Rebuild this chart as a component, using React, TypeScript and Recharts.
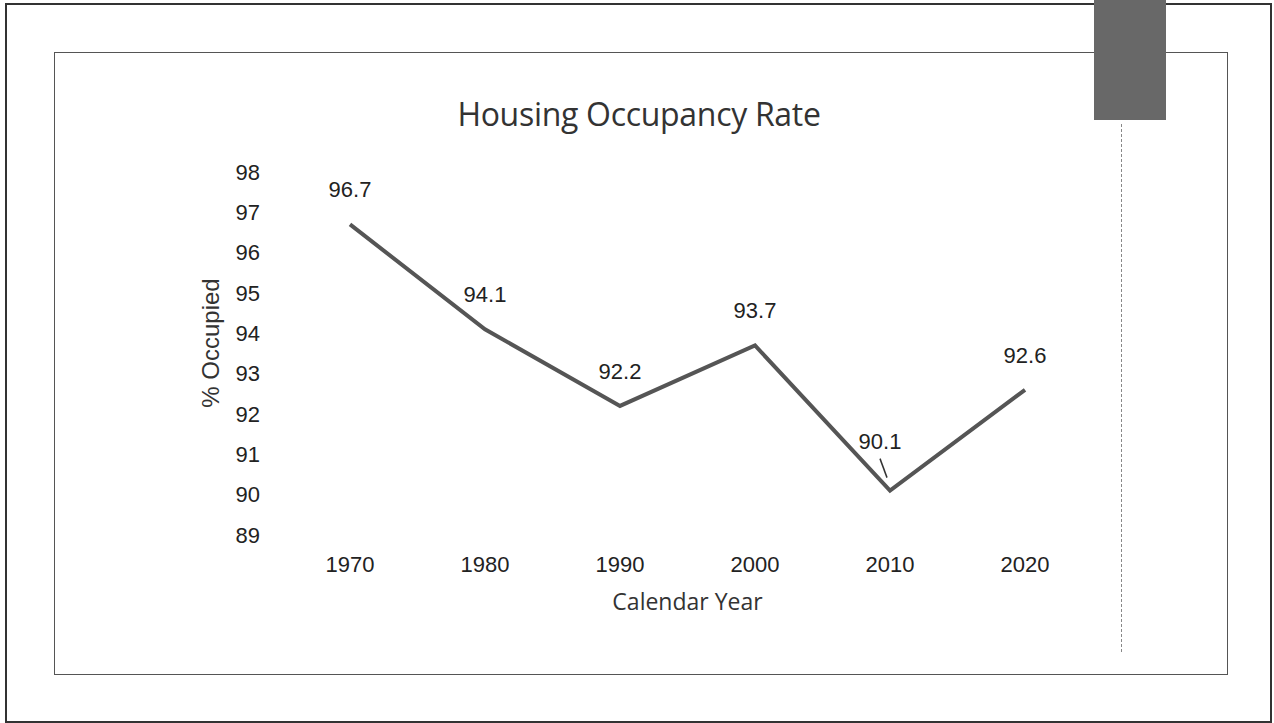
import { LineChart, Line, XAxis, YAxis, LabelList, Label } from 'recharts';

const YEARS = ['1970', '1980', '1990', '2000', '2010', '2020'];
const OCCUPIED = [96.7, 94.1, 92.2, 93.7, 90.1, 92.6];
const Y_TICKS = [89, 90, 91, 92, 93, 94, 95, 96, 97, 98];

const data = YEARS.map((year, i) => ({ year, occupied: OCCUPIED[i] }));

const TICK_STYLE = { fontSize: 22, fill: '#222', fontFamily: '"Liberation Sans", Arial, sans-serif' };

function PointLabel(props: any) {
  const { x, y, value, index } = props;
  if (index === 4) {
    // 2010 label sits higher with a small leader line
    return (
      <g>
        <text x={x - 10} y={y - 42} textAnchor="middle" style={TICK_STYLE}>{value}</text>
        <line x1={x - 10} y1={y - 32} x2={x - 3} y2={y - 13} stroke="#333" strokeWidth={1.5} />
      </g>
    );
  }
  return (
    <text x={x} y={y - 27} textAnchor="middle" style={TICK_STYLE}>{value}</text>
  );
}

export default function App() {
  return (
    <div style={{ position: 'absolute', left: 0, top: 0, width: 1274, height: 723, background: '#fff', overflow: 'hidden' }}>
      {/* page frame */}
      <div style={{ position: 'absolute', left: 5, top: 3, width: 1263, height: 716, border: '2px solid #333' }} />
      <div style={{ position: 'absolute', left: 54, top: 52, width: 1172, height: 621, border: '1.5px solid #555' }} />
      <div style={{ position: 'absolute', left: 1094, top: 0, width: 72, height: 120, background: '#686868' }} />
      <div style={{ position: 'absolute', left: 1121, top: 124, width: 0, height: 528, borderLeft: '1px dashed #888' }} />

      <div
        style={{
          position: 'absolute', left: 0, top: 92, width: 1274, textAlign: 'center',
          fontFamily: '"Open Sans", sans-serif', fontSize: 32, color: '#333', letterSpacing: -0.3,
        }}
      >
        <span style={{ position: 'relative', left: 2 }}>Housing Occupancy Rate</span>
      </div>

      <div style={{ position: 'absolute', left: 0, top: 0 }}>
        <LineChart width={1274} height={723} data={data} margin={{ top: 172, right: 182, bottom: 128, left: 0 }}>
          <XAxis
            dataKey="year"
            axisLine={false}
            tickLine={false}
            tickSize={0}
            tickMargin={21}
            height={60}
            padding={{ left: 67, right: 67 }}
            tick={TICK_STYLE}
            interval={0}
          >
            <Label
              value="Calendar Year"
              position="bottom"
              offset={-1}
              style={{ fontSize: 23, fill: '#333', fontFamily: '"Open Sans", sans-serif' }}
            />
          </XAxis>
          <YAxis
            width={283}
            domain={[89, 98]}
            ticks={Y_TICKS}
            interval={0}
            axisLine={false}
            tickLine={false}
            tickSize={0}
            tickMargin={23}
            tick={TICK_STYLE}
          >
            <Label
              content={() => (
                <text
                  x={210}
                  y={343}
                  transform="rotate(-90 210 343)"
                  textAnchor="middle"
                  dominantBaseline="central"
                  style={{ fontSize: 24, fill: '#333', fontFamily: '"Liberation Sans", Arial, sans-serif' }}
                >
                  % Occupied
                </text>
              )}
            />
          </YAxis>
          <Line
            type="linear"
            dataKey="occupied"
            stroke="#555"
            strokeWidth={4}
            dot={false}
            activeDot={false}
            isAnimationActive={false}
          >
            <LabelList dataKey="occupied" content={PointLabel} />
          </Line>
        </LineChart>
      </div>
    </div>
  );
}
